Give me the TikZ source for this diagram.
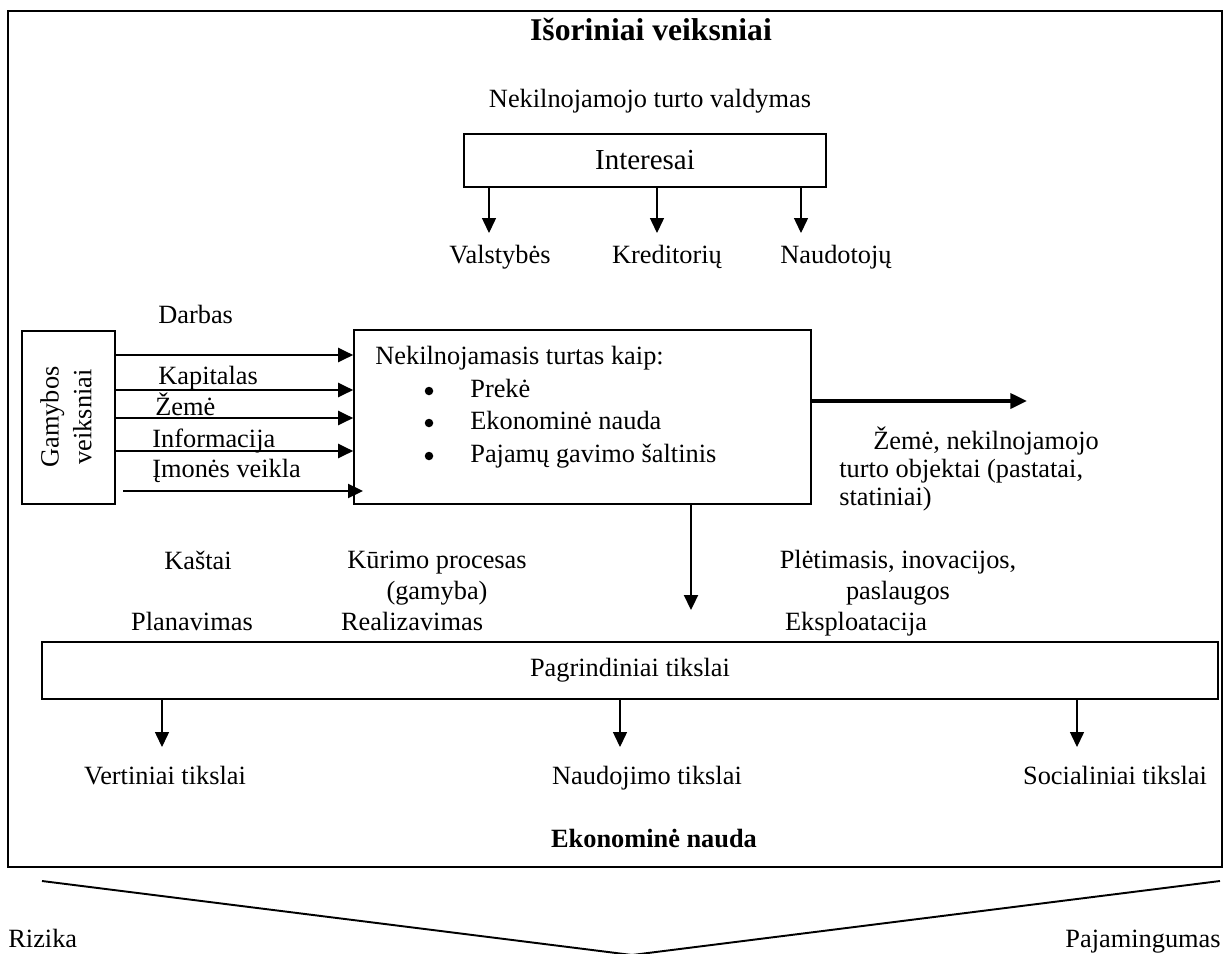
\documentclass[tikz,border=0pt]{standalone}
\usepackage{fontspec}
\setmainfont{Liberation Serif}
\usetikzlibrary{arrows.meta}
\begin{document}
\begin{tikzpicture}[x=0.02cm,y=-0.02cm]
            \tikzstyle{deze}=[draw,line width=1pt,inner sep=0pt,font=\fontsize{15}{18}\selectfont]
            \tikzstyle{tekstas}=[inner sep=0pt,text height=11pt,text depth=3pt,font=\fontsize{15}{18}\selectfont]
            \tikzstyle{daug}=[inner sep=0pt,align=center,font=\fontsize{15}{17.6}\selectfont]
            \tikzstyle{taskas}=[circle,fill,inner sep=0pt,minimum size=0.17cm]
            \tikzstyle{rodykle}=[line width=1pt,-{Triangle[length=8.5pt,width=8pt]}]
            \tikzstyle{plona}=[line width=0.6pt,-{Triangle[length=8.5pt,width=8pt]}]
            \tikzstyle{stora}=[line width=2.2pt,-{Triangle[length=9.5pt,width=8.5pt]}]
            \useasboundingbox (0,0) rectangle (1223,953);
            \draw[line width=1.1pt] (8,11) rectangle (1222,867);
            \node[tekstas,text height=13pt,text depth=3.6pt,font=\fontsize{18}{22}\selectfont\bfseries] (isor) at (651,32) {Išoriniai veiksniai};
            \node[tekstas] (valdymas) at (650,100) {Nekilnojamojo turto valdymas};
            \node[deze,font=\fontsize{16.5}{20}\selectfont,minimum width=7.24cm,minimum height=1.06cm] (interesai) at (645,160.5) {Interesai};
            \node[tekstas] (valst) at (500,256) {Valstybės};
            \node[tekstas] (kred) at (667,256) {Kreditorių};
            \node[tekstas] (naud) at (836,256) {Naudotojų};
            \coordinate (v1) at (489,233);
            \coordinate (v2) at (657,233);
            \coordinate (v3) at (801,233);
            \draw[plona] (interesai.south -| v1) -- (v1);
            \draw[plona] (interesai.south -| v2) -- (v2);
            \draw[plona] (interesai.south -| v3) -- (v3);
            % gamybos veiksniai
            \node[deze,minimum width=1.86cm,minimum height=3.46cm] (gamybos) at (68.5,417.5) {};
            \node[daug,rotate=90,font=\fontsize{15}{18.7}\selectfont] (gamtxt) at (66,417) {Gamybos\\veiksniai};
            \node[deze,minimum width=9.14cm,minimum height=3.48cm] (turtas) at (582.5,417) {};
            \node[tekstas,anchor=west] (kaip) at (375,357) {Nekilnojamasis turtas kaip:};
            \node[taskas] (b1) at (429,391) {};
            \node[taskas] (b2) at (429,423) {};
            \node[taskas] (b3) at (429,456) {};
            \node[tekstas,anchor=west] (preke) at (470,390) {Prekė};
            \node[tekstas,anchor=west] (ekon) at (470,422) {Ekonominė nauda};
            \node[tekstas,anchor=west] (saltinis) at (470,455) {Pajamų gavimo šaltinis};
            \node[tekstas,anchor=west] (darbas) at (158,316) {Darbas};
            \node[tekstas,anchor=west] (kapitalas) at (158,377) {Kapitalas};
            \node[tekstas,anchor=west] (zeme) at (155,408) {Žemė};
            \node[tekstas,anchor=west] (info) at (152,440) {Informacija};
            \node[tekstas,anchor=west] (imones) at (152,470) {Įmonės veikla};
            \draw[rodykle] (gamybos.east |- 0,355) -- (turtas.west |- 0,355);
            \draw[rodykle] (gamybos.east |- 0,390) -- (turtas.west |- 0,390);
            \draw[rodykle] (gamybos.east |- 0,418) -- (turtas.west |- 0,418);
            \draw[rodykle] (gamybos.east |- 0,451) -- (turtas.west |- 0,451);
            \coordinate (i0) at (123,491);
            \coordinate (i1) at (363,491);
            \draw[rodykle] (i0) -- (i1);
            \coordinate (r) at (1027,401);
            \draw[stora] (turtas.east |- r) -- (r);
            \node[daug,anchor=west,align=left,font=\fontsize{15}{16.2}\selectfont] (objektai) at (839,469) {\hspace*{0.68cm}Žemė, nekilnojamojo\\turto objektai (pastatai,\\statiniai)};
            \coordinate (d) at (691,610);
            \draw[rodykle] (turtas.south -| d) -- (d);
            % etapai
            \node[tekstas] (kastai) at (198,562) {Kaštai};
            \node[daug] (kurimo) at (437,578) {Kūrimo procesas\\(gamyba)};
            \node[daug] (pletimasis) at (898,578) {Plėtimasis, inovacijos,\\paslaugos};
            \node[tekstas] (planavimas) at (192,623) {Planavimas};
            \node[tekstas] (realizavimas) at (412,623) {Realizavimas};
            \node[tekstas] (eksploatacija) at (856,623) {Eksploatacija};
            \node[deze,minimum width=23.52cm,minimum height=1.14cm] (tikslai) at (630,670.5) {Pagrindiniai tikslai};
            \coordinate (t1) at (162,747);
            \coordinate (t2) at (620,747);
            \coordinate (t3) at (1077,747);
            \draw[plona] (tikslai.south -| t1) -- (t1);
            \draw[plona] (tikslai.south -| t2) -- (t2);
            \draw[plona] (tikslai.south -| t3) -- (t3);
            \node[tekstas] (vert) at (165,777) {Vertiniai tikslai};
            \node[tekstas] (naudoj) at (647,777) {Naudojimo tikslai};
            \node[tekstas] (soc) at (1115,777) {Socialiniai tikslai};
            \node[tekstas,font=\fontsize{15}{18}\selectfont\bfseries] (nauda) at (654,840) {Ekonominė nauda};
            \draw[line width=1.1pt] (42,881) -- (632,955) -- (1220,881);
            \node[tekstas,anchor=west] (rizika) at (8,940) {Rizika};
            \node[tekstas,anchor=east] (pajam) at (1221,940) {Pajamingumas};
        \end{tikzpicture}
\end{document}
